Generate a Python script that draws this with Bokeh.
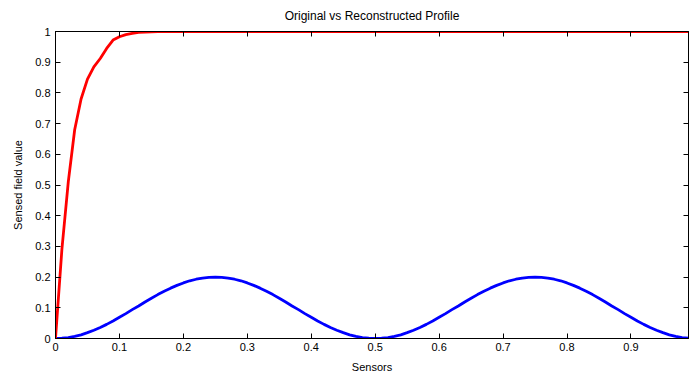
from bokeh.plotting import figure
from bokeh.models import Range1d, LinearAxis, FixedTicker
from bokeh.embed import file_html
from bokeh.resources import INLINE

sensors = [i / 100 for i in range(100)]

original = [0, .001, .003, .007, .012, .019, .027, .036, .046, .057, .069, .081, .094, .106, .119, .131, .143, .154, .164, .173, .181, .188, .193, .197, .199, .2,
            .199, .197, .193, .188, .181, .173, .164, .154, .143, .131, .119, .106, .094, .081, .069, .057, .046, .036, .027, .019, .012, .007, .003, .001, 0,
            .001, .003, .007, .012, .019, .027, .036, .046, .057, .069, .081, .094, .106, .119, .131, .143, .154, .164, .173, .181, .188, .193, .197, .199, .2,
            .199, .197, .193, .188, .181, .173, .164, .154, .143, .131, .119, .106, .094, .081, .069, .057, .046, .036, .027, .019, .012, .007, .003, .001]

reconstructed = [0, .29, .51, .68, .78, .845, .885, .912, .945, .972, .983, .990, .994, .997, .998, .999] + [1.0] * 84

xticks = [0, 0.1, 0.2, 0.3, 0.4, 0.5, 0.6, 0.7, 0.8, 0.9]
xtick_labels = ["0", "0.1", "0.2", "0.3", "0.4", "0.5", "0.6", "0.7", "0.8", "0.9"]
yticks = [0, 0.1, 0.2, 0.3, 0.4, 0.5, 0.6, 0.7, 0.8, 0.9, 1]
ytick_labels = ["0", "0.1", "0.2", "0.3", "0.4", "0.5", "0.6", "0.7", "0.8", "0.9", "1"]

FONT = "Liberation Sans"

p = figure(width=689, height=376, output_backend="svg", toolbar_location=None,
           x_range=Range1d(0, 0.99), y_range=Range1d(0, 1),
           title="Original vs Reconstructed Profile",
           min_border_left=55, min_border_right=1, min_border_top=31, min_border_bottom=38)
p.title.align = "center"
p.title.vertical_align = "top"
p.title.text_font = FONT
p.title.text_font_size = "12px"
p.title.text_font_style = "normal"
p.title.text_color = "black"
p.title.offset = 0
p.title.standoff = 14

p.grid.visible = False
p.outline_line_color = "black"
p.outline_line_width = 1

p.line(sensors, original, line_color="#0000ff", line_width=2.8)
p.line(sensors, reconstructed, line_color="#ff0000", line_width=2.8)

def style_axis(ax, ticks, labels, show_labels=True):
    ax.ticker = FixedTicker(ticks=ticks)
    ax.major_tick_in = 5
    ax.major_tick_out = 0
    ax.minor_tick_in = 0
    ax.minor_tick_out = 0
    ax.axis_line_color = "black"
    ax.major_tick_line_color = "black"
    ax.major_label_text_font = FONT
    ax.major_label_text_font_size = "11px"
    ax.major_label_text_color = "black"
    ax.axis_label_text_font = FONT
    ax.axis_label_text_font_size = "11px"
    ax.axis_label_text_font_style = "normal"
    ax.axis_label_text_color = "black"
    if show_labels:
        ax.major_label_overrides = {t: l for t, l in zip(ticks, labels)}
    else:
        ax.major_label_overrides = {t: "" for t in ticks}
        ax.major_label_text_color = None
        ax.major_label_standoff = 0

xa = p.xaxis[0]
style_axis(xa, xticks, xtick_labels)
xa.axis_label = "Sensors"
xa.axis_label_standoff = 7
xa.major_label_standoff = 4

ya = p.yaxis[0]
style_axis(ya, yticks, ytick_labels)
ya.axis_label = "Sensed field value"
ya.axis_label_standoff = 8
ya.major_label_standoff = 5

top = LinearAxis()
style_axis(top, xticks, xtick_labels, show_labels=False)
p.add_layout(top, "above")

right = LinearAxis()
style_axis(right, yticks, ytick_labels, show_labels=False)
p.add_layout(right, "right")

open("out.html", "w").write(file_html(p, INLINE))
